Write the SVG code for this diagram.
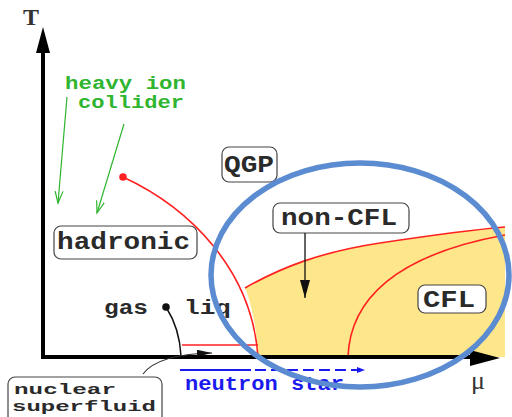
<svg xmlns="http://www.w3.org/2000/svg" width="512" height="417" viewBox="0 0 512 417">
<style>
.box{fill:#fff;stroke:#444;stroke-width:1.2}
.lbl{font-family:"Liberation Mono",monospace;font-weight:bold;fill:#2a2a2a}
.big{font-size:24px}
.mid{font-size:21px}
.sm{font-size:15px}
.grn{font-family:"Liberation Mono",monospace;font-weight:bold;font-size:18px;fill:#2fb52f}
.blu{font-family:"Liberation Mono",monospace;font-weight:bold;font-size:20px;fill:#1a1aee}
.red{fill:none;stroke:#ff2020;stroke-width:1.6}
.ax{font-family:"Liberation Serif",serif;fill:#333}
</style>
<defs>
<marker id="ga" markerUnits="userSpaceOnUse" markerWidth="14" markerHeight="10" refX="12" refY="5" orient="auto">
<path d="M0,1 L12,5 L0,9" fill="none" stroke="#2fb52f" stroke-width="1.2"/>
</marker>
<marker id="ba" markerUnits="userSpaceOnUse" markerWidth="20" markerHeight="12" refX="18" refY="5" orient="auto">
<path d="M0,0 L18,5 L0,10 Z" fill="#111"/>
</marker>
<marker id="bs" markerUnits="userSpaceOnUse" markerWidth="16" markerHeight="10" refX="15" refY="3.5" orient="auto">
<path d="M0,0 L15,3.5 L0,7 Z" fill="#111"/>
</marker>
<marker id="bl" markerUnits="userSpaceOnUse" markerWidth="10" markerHeight="8" refX="8" refY="3" orient="auto">
<path d="M0,0 L8,3 L0,6 Z" fill="#1a1aee"/>
</marker>
</defs>
<rect width="512" height="417" fill="#fff"/>
<g id="phases">
<path d="M245,288 C280,268 320,252 380,243 S470,230 505,227 L505,357 L258,357 C257,330 252,305 245,288 Z" fill="#fee68a"/>
<path class="red" d="M123,177 C190,208 252,270 258,357"/>
<path class="red" d="M245,288 C280,268 320,252 380,243 S470,230 505,227"/>
<path class="red" d="M348,357 C350,300 395,255 505,235"/>
<path class="red" d="M182,345 L258,345"/>
<circle cx="123" cy="177" r="3.8" fill="#ff2020"/>
</g>
<g id="axes">
<line x1="43" y1="359" x2="43" y2="50" stroke="#000" stroke-width="4"/>
<path d="M43,27 L50,53 L36,53 Z" fill="#000"/>
<line x1="41" y1="357" x2="472" y2="357" stroke="#000" stroke-width="4"/>
<path d="M500,358 L470,350 L470,366 Z" fill="#000"/>
<text class="ax" x="31" y="25" font-size="24" font-weight="bold" text-anchor="middle">T</text>
<text class="ax" x="478" y="389" font-size="26" text-anchor="middle" fill="#555">μ</text>
</g>
<g id="heavy-ion">
<text class="grn" x="65" y="89" textLength="121" lengthAdjust="spacingAndGlyphs">heavy ion</text>
<text class="grn" x="78" y="108" textLength="106" lengthAdjust="spacingAndGlyphs">collider</text>
</g>
<g id="hadronic">
<rect class="box" x="54" y="226" width="143" height="33" rx="7"/>
<text class="lbl big" x="57" y="249" textLength="133" lengthAdjust="spacingAndGlyphs">hadronic</text>
</g>
<g id="qgp">
<rect class="box" x="222" y="147" width="55" height="35" rx="7"/>
<text class="lbl big" x="224" y="172" textLength="50" lengthAdjust="spacingAndGlyphs">QGP</text>
</g>
<g id="non-cfl">
<rect class="box" x="273" y="203" width="136" height="30" rx="7"/>
<text class="lbl big" x="281" y="225" textLength="116" lengthAdjust="spacingAndGlyphs">non-CFL</text>
</g>
<g id="cfl">
<rect class="box" x="418" y="285" width="68" height="28" rx="7"/>
<text class="lbl big" x="423" y="307" textLength="52" lengthAdjust="spacingAndGlyphs">CFL</text>
</g>
<g id="gas-liq">
<text class="lbl mid" x="104" y="314" textLength="44" lengthAdjust="spacingAndGlyphs">gas</text>
<circle cx="166" cy="307" r="3.8" fill="#111"/>
<text class="lbl mid" x="184" y="314" textLength="47" lengthAdjust="spacingAndGlyphs">liq</text>
</g>
<g id="nuclear-superfluid">
<rect class="box" x="8" y="377" width="154" height="46" rx="7"/>
<text class="lbl sm" x="14" y="394" textLength="102" lengthAdjust="spacingAndGlyphs">nuclear</text>
<text class="lbl sm" x="12" y="411" textLength="144" lengthAdjust="spacingAndGlyphs">superfluid</text>
</g>
<g id="neutron-star">
<text class="blu" x="185" y="390" textLength="159" lengthAdjust="spacingAndGlyphs">neutron star</text>
</g>
<g id="connectors">
<line x1="67" y1="97" x2="58" y2="203" stroke="#2fb52f" stroke-width="1.2" marker-end="url(#ga)"/>
<line x1="124" y1="124" x2="97" y2="213" stroke="#2fb52f" stroke-width="1.2" marker-end="url(#ga)"/>
<line x1="305" y1="233" x2="305" y2="298" stroke="#111" stroke-width="1.3" marker-end="url(#ba)"/>
<path d="M166,307 C173,318 180,335 181,356" fill="none" stroke="#111" stroke-width="1.5"/>
<path d="M143,374 Q158,354 212,353" fill="none" stroke="#333" stroke-width="1.2" marker-end="url(#bs)"/>
<line x1="180" y1="370" x2="251" y2="370" stroke="#1a1aee" stroke-width="2.2"/>
<line x1="255" y1="370" x2="365" y2="370" stroke="#1a1aee" stroke-width="2.2" stroke-dasharray="11,5" marker-end="url(#bl)"/>
</g>
<g id="highlight">
<ellipse cx="360" cy="275" rx="149" ry="112" fill="none" stroke="#5b8bd0" stroke-width="5.5"/>
</g>
</svg>
